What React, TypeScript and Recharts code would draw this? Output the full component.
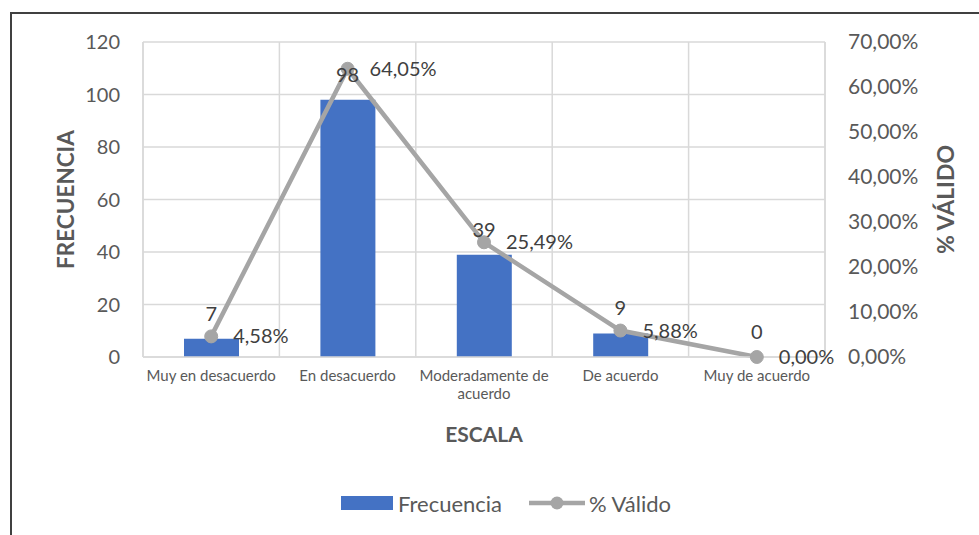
import React from 'react';
import {
  ComposedChart, Bar, Line, XAxis, YAxis, CartesianGrid, LabelList, Legend, Label, Text,
} from 'recharts';

const categories = ['Muy en desacuerdo', 'En desacuerdo', 'Moderadamente de acuerdo', 'De acuerdo', 'Muy de acuerdo'];
const frecuencia = [7, 98, 39, 9, 0];
const validos = [4.58, 64.05, 25.49, 5.88, 0.0];
const leftTicks = [0, 20, 40, 60, 80, 100, 120];
const rightTicks = [0, 10, 20, 30, 40, 50, 60, 70];
const gridTicks = [0, 1, 2, 3, 4, 5];

const data = categories.map((c, i) => ({ escala: c, frecuencia: frecuencia[i], valido: validos[i], pos: i + 0.5 }));

const BLUE = '#4472C4';
const GRAY = '#A5A5A5';
const TXT = '#595959';
const FONT = 'Lato, sans-serif';

const pct = (v: number) => `${v.toFixed(2).replace('.', ',')}%`;

const CatTick = ({ x, y, payload }: any) => (
  <Text x={x} y={y} width={134} textAnchor="middle" verticalAnchor="start"
    fontSize={15} fill={TXT} fontFamily={FONT} lineHeight={18}>
    {payload.value}
  </Text>
);

// bar value label, placed above the bar top (also for the empty bar)
const BarValue = (p: any) => (
  <text x={p.x} y={p.y - 26} textAnchor="middle" dominantBaseline="central"
    fontSize={20} fill="#404040" fontFamily={FONT}>
    {String(p.value)}
  </text>
);

const LegendBox = () => (
  <div style={{ display: 'flex', alignItems: 'center', height: 26, fontFamily: FONT, fontSize: 22, color: TXT }}>
    <div style={{ width: 52, height: 14, background: BLUE, marginRight: 5 }} />
    <span>Frecuencia</span>
    <svg width={56} height={14} style={{ marginLeft: 27, marginRight: 4 }}>
      <line x1={0} y1={7} x2={56} y2={7} stroke={GRAY} strokeWidth={4.5} />
      <circle cx={28} cy={7} r={6.5} fill={GRAY} />
    </svg>
    <span>% Válido</span>
  </div>
);

export default function App() {
  return (
    <div style={{ position: 'absolute', left: 0, top: 0, width: 979, height: 535, background: '#fff', overflow: 'hidden' }}>
      <div style={{
        position: 'absolute', left: 10, top: 12, width: 980, height: 540,
        borderLeft: '2px solid #404040', borderTop: '2px solid #404040',
      }} />
      <div style={{ position: 'absolute', left: 0, top: 0 }}>
        <ComposedChart
          width={979} height={535} data={data}
          margin={{ top: 42, left: 83, right: 54, bottom: 92 }}
          style={{ fontFamily: FONT }}
        >
          <CartesianGrid stroke="#D9D9D9" strokeWidth={1.5} xAxisId="grid" yAxisId="left" />
          <XAxis xAxisId="grid" type="number" dataKey="pos" domain={[0, 5]} ticks={gridTicks} hide />
          <XAxis
            dataKey="escala" tick={<CatTick />} tickLine={false} tickSize={0} tickMargin={13}
            axisLine={{ stroke: '#D9D9D9', strokeWidth: 1.5 }} height={60} interval={0}
          >
            <Label content={({ viewBox }: any) => (
              <text x={viewBox.x + viewBox.width / 2} y={442} textAnchor="middle"
                fontSize={21} fontWeight={700} fill={TXT} fontFamily={FONT}>ESCALA</text>
            )} />
          </XAxis>
          <YAxis
            yAxisId="left" domain={[0, 120]} ticks={leftTicks} width={60}
            tick={{ fontSize: 20, fill: TXT }} tickLine={false} tickSize={0} tickMargin={23}
            axisLine={{ stroke: '#D9D9D9', strokeWidth: 1.5 }}
          >
            <Label content={({ viewBox }: any) => {
              const cx = viewBox.x - 18;
              const cy = viewBox.y + viewBox.height / 2;
              return (
                <text x={cx} y={cy} transform={`rotate(-90 ${cx} ${cy})`} textAnchor="middle"
                  dominantBaseline="central" fontSize={22.5} fontWeight={700} fill={TXT} fontFamily={FONT}>
                  FRECUENCIA
                </text>
              );
            }} />
          </YAxis>
          <YAxis
            yAxisId="right" orientation="right" domain={[0, 70]} ticks={rightTicks} width={100}
            tick={{ fontSize: 21, fill: TXT, textAnchor: 'start' }} tickFormatter={pct}
            tickLine={false} tickSize={0} tickMargin={23}
            axisLine={{ stroke: '#D9D9D9', strokeWidth: 1.5 }}
          >
            <Label content={({ viewBox }: any) => {
              const cx = viewBox.x + 120;
              const cy = viewBox.y + viewBox.height / 2;
              return (
                <text x={cx} y={cy} transform={`rotate(-90 ${cx} ${cy})`} textAnchor="middle"
                  dominantBaseline="central" fontSize={23} fontWeight={700} fill={TXT} fontFamily={FONT}>
                  % VÁLIDO
                </text>
              );
            }} />
          </YAxis>
          <Bar yAxisId="left" dataKey="frecuencia" name="Frecuencia" fill={BLUE} barSize={55} isAnimationActive={false} />
          <Line
            yAxisId="right" dataKey="valido" name="% Válido" stroke={GRAY} strokeWidth={4.5}
            dot={{ r: 6.5, fill: GRAY, stroke: GRAY, strokeWidth: 1 }} activeDot={false}
            isAnimationActive={false}
          >
            <LabelList dataKey="valido" position="right" offset={22} formatter={(v: any) => pct(Number(v))}
              fontSize={20} fill="#404040" fontFamily={FONT} />
          </Line>
          {/* invisible carrier for the bar value labels */}
          <Line
            yAxisId="left" dataKey="frecuencia" stroke="none" dot={false} activeDot={false}
            legendType="none" isAnimationActive={false}
          >
            <LabelList dataKey="frecuencia" content={<BarValue />} />
          </Line>
          <Legend content={<LegendBox />} wrapperStyle={{ position: 'absolute', left: 341, top: 490, width: 400, height: 26 }} />
        </ComposedChart>
      </div>
    </div>
  );
}
